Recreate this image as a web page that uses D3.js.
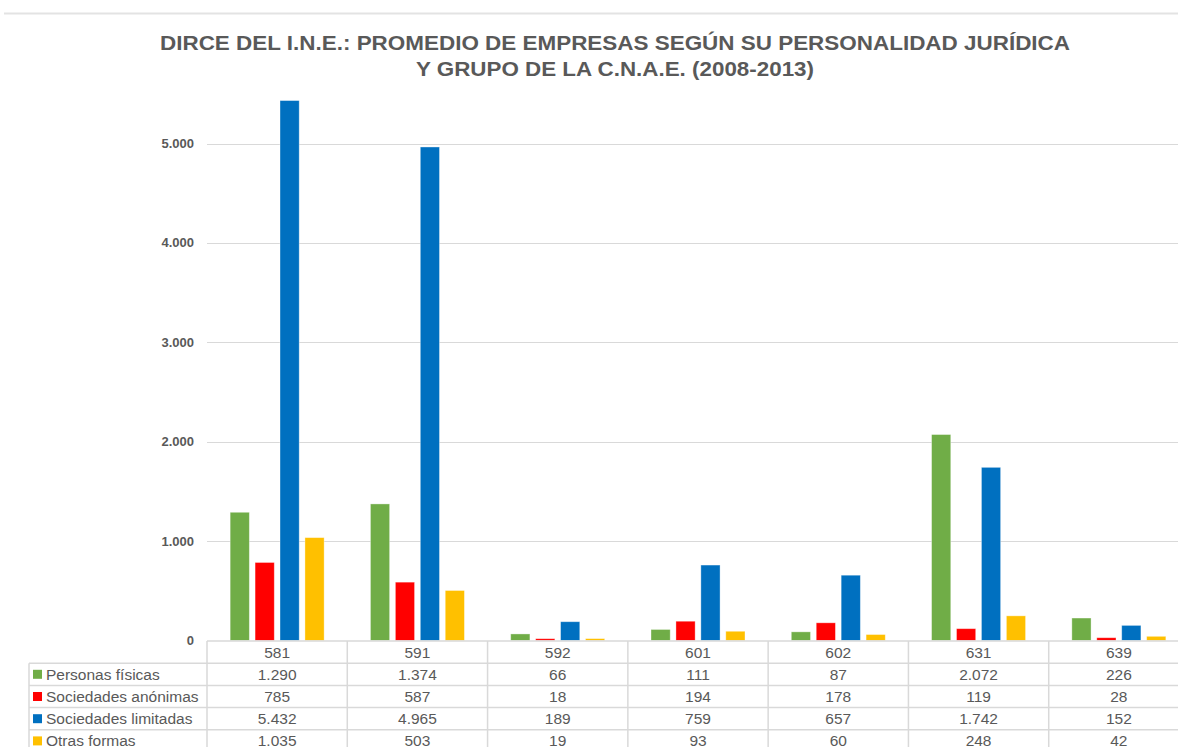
<!DOCTYPE html>
<html><head><meta charset="utf-8">
<script src="https://cdn.jsdelivr.net/npm/d3@7"></script>
<style>
html,body{margin:0;padding:0;background:#fff;}
svg{display:block;font-family:"Liberation Sans",Arial,sans-serif;}
</style></head>
<body>
<svg id="chart" width="1178" height="747"></svg>
<script>
const titleLines = ["DIRCE DEL I.N.E.: PROMEDIO DE EMPRESAS SEGÚN SU PERSONALIDAD JURÍDICA", "Y GRUPO DE LA C.N.A.E. (2008-2013)"];
const categories = ["581", "591", "592", "601", "602", "631", "639"];
const seriesNames = ["Personas físicas", "Sociedades anónimas", "Sociedades limitadas", "Otras formas"];
const seriesColors = ["#70AD47", "#FF0000", "#0070C0", "#FFC000"];
const personasFisicas = [1290, 1374, 66, 111, 87, 2072, 226];
const sociedadesAnonimas = [785, 587, 18, 194, 178, 119, 28];
const sociedadesLimitadas = [5432, 4965, 189, 759, 657, 1742, 152];
const otrasFormas = [1035, 503, 19, 93, 60, 248, 42];
const yTicks = [0, 1000, 2000, 3000, 4000, 5000];

const seriesValues = [personasFisicas, sociedadesAnonimas, sociedadesLimitadas, otrasFormas];
const locale = d3.formatLocale({decimal: ",", thousands: ".", grouping: [3], currency: ["", " €"]});
const fmt = locale.format(",d");

const svg = d3.select("#chart");
const textColor = "#595959";
const gridColor = "#d9d9d9";

// top rule
svg.append("line").attr("x1", 4).attr("x2", 1178).attr("y1", 13.5).attr("y2", 13.5)
  .attr("stroke", "#e3e3e3").attr("stroke-width", 2);

// title
const titleWidths = [910, 398];
svg.append("g").selectAll("text").data(titleLines).join("text")
  .attr("x", 615).attr("y", (d, i) => 50 + i * 26)
  .attr("text-anchor", "middle")
  .attr("font-size", 20).attr("font-weight", "bold").attr("fill", textColor)
  .attr("textLength", (d, i) => titleWidths[i]).attr("lengthAdjust", "spacingAndGlyphs")
  .text(d => d);

const plotLeft = 207, plotRight = 1189;
const x0 = d3.scaleBand().domain(categories).range([plotLeft, plotRight]);
const bw = x0.bandwidth();
const x1 = d3.scaleBand().domain(d3.range(seriesNames.length)).range([bw * 0.165, bw * 0.835]).paddingInner(0.23);
const y = d3.scaleLinear().domain([0, 5000]).range([640.5, 143.5]);

// grid
svg.append("g").selectAll("line").data(yTicks.filter(t => t > 0)).join("line")
  .attr("x1", plotLeft).attr("x2", 1178)
  .attr("y1", d => Math.round(y(d)) + 0.5).attr("y2", d => Math.round(y(d)) + 0.5)
  .attr("stroke", gridColor).attr("stroke-width", 1.2);

// y labels
svg.append("g").selectAll("text").data(yTicks).join("text")
  .attr("x", 194).attr("y", d => y(d) + 4.5)
  .attr("text-anchor", "end").attr("font-size", 13).attr("font-weight", "bold")
  .attr("fill", textColor)
  .text(d => fmt(d));

// bars
const groups = svg.append("g").selectAll("g").data(categories).join("g")
  .attr("transform", c => `translate(${x0(c)},0)`);
groups.selectAll("rect").data((c, ci) => seriesValues.map((vals, si) => ({si, v: vals[ci]})))
  .join("rect")
  .attr("x", d => x1(d.si)).attr("width", x1.bandwidth())
  .attr("y", d => y(d.v)).attr("height", d => y(0) - y(d.v))
  .attr("fill", d => seriesColors[d.si])
  .attr("stroke", "#ffffff").attr("stroke-opacity", 0.45).attr("stroke-width", 0.8);

// data table
const rowTop = 641, rowH = 22.2;
const nRows = seriesNames.length + 1;
const tableLeft = 29;
const fs = 15.5;
const tbl = svg.append("g");
for (let r = 0; r <= nRows; r++) {
  const yy = rowTop + r * rowH;
  tbl.append("line").attr("x1", r === 0 ? plotLeft : tableLeft).attr("x2", 1178)
    .attr("y1", yy).attr("y2", yy).attr("stroke", gridColor).attr("stroke-width", 1.5);
}
const vx = categories.map(c => x0(c));
vx.forEach(xx => {
  tbl.append("line").attr("x1", xx).attr("x2", xx).attr("y1", rowTop).attr("y2", rowTop + nRows * rowH)
    .attr("stroke", gridColor).attr("stroke-width", 1.5);
});
tbl.append("line").attr("x1", tableLeft).attr("x2", tableLeft).attr("y1", rowTop + rowH).attr("y2", rowTop + nRows * rowH)
  .attr("stroke", gridColor).attr("stroke-width", 1.5);

tbl.selectAll("text.cat").data(categories).join("text").attr("class", "cat")
  .attr("x", c => x0(c) + bw / 2).attr("y", rowTop + rowH / 2 + 5.5)
  .attr("text-anchor", "middle").attr("font-size", fs).attr("fill", textColor)
  .text(c => c);

seriesNames.forEach((name, si) => {
  const yc = rowTop + (si + 1) * rowH + rowH / 2;
  tbl.append("rect").attr("x", 33).attr("y", yc - 4.5).attr("width", 9).attr("height", 9)
    .attr("fill", seriesColors[si]);
  tbl.append("text").attr("x", 46).attr("y", yc + 5.5).attr("font-size", fs).attr("fill", textColor)
    .text(name);
  tbl.selectAll(null).data(categories).join("text")
    .attr("x", c => x0(c) + bw / 2).attr("y", yc + 5.5)
    .attr("text-anchor", "middle").attr("font-size", fs).attr("fill", textColor)
    .text((c, ci) => fmt(seriesValues[si][ci]));
});
</script>
</body></html>
